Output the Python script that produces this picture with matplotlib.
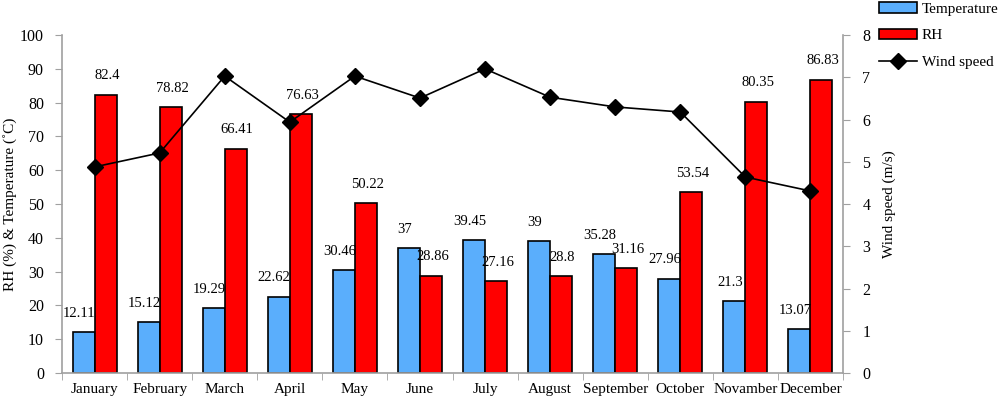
import numpy as np
import matplotlib
matplotlib.use("Agg")
import matplotlib.pyplot as plt

plt.rcParams['font.family'] = ['Liberation Serif', 'DejaVu Serif']

months = ["January", "February", "March", "April", "May", "June", "July",
          "August", "September", "October", "Novamber", "December"]
temperature = [12.11, 15.12, 19.29, 22.62, 30.46, 37, 39.45, 39, 35.28, 27.96, 21.3, 13.07]
rh = [82.4, 78.82, 66.41, 76.63, 50.22, 28.86, 27.16, 28.8, 31.16, 53.54, 80.35, 86.83]
wind_speed = [4.88, 5.21, 7.03, 5.94, 7.03, 6.51, 7.2, 6.53, 6.3, 6.18, 4.64, 4.31]

fig = plt.figure(figsize=(10, 3.99), dpi=100)
ax = fig.add_axes([0.062, 0.065, 0.781, 0.847])
ax2 = ax.twinx()

x = np.arange(len(months))
w = 0.338
b1 = ax.bar(x - w / 2, temperature, w, color="#5aaefc", edgecolor="black", linewidth=1.2, label="Temperature")
b2 = ax.bar(x + w / 2, rh, w, color="#ff0000", edgecolor="black", linewidth=1.2, label="RH")

for xi, v in zip(x, temperature):
    ax.text(xi - w / 2 - 0.07, v + 3.6, f"{v:g}", ha="center", va="bottom", fontsize=10.5)
for xi, v in zip(x, rh):
    ax.text(xi + w / 2 + 0.02, v + 3.6, f"{v:g}", ha="center", va="bottom", fontsize=10.5)

ln, = ax2.plot(x, wind_speed, color="black", marker="D", markersize=8.5, linewidth=1.2, label="Wind speed")

ax.set_xlim(-0.5, len(months) - 0.5)
ax.set_ylim(0, 100)
ax.set_yticks(range(0, 101, 10))
ax2.set_ylim(0, 8)
ax2.set_yticks(range(0, 9))

ax.set_xticks(x)
ax.set_xticklabels(months, fontsize=11)
ax.set_xticks(np.arange(-0.5, len(months), 1), minor=True)
ax.tick_params(axis="x", which="major", length=0, pad=7)
ax.tick_params(axis="x", which="minor", length=5, color="#a0a0a0")
ax.tick_params(axis="y", labelsize=11.5, length=5, color="#a0a0a0", pad=8)
ax2.tick_params(axis="y", labelsize=11.5, length=5, color="#a0a0a0", pad=9)

for a in (ax, ax2):
    a.spines["top"].set_visible(False)
    for s in ("left", "right", "bottom"):
        a.spines[s].set_color("#a0a0a0")
        a.spines[s].set_linewidth(1.2)
ax.spines["right"].set_visible(False)
ax2.spines["left"].set_visible(False)
ax2.spines["bottom"].set_visible(False)

ax.set_ylabel("RH (%) & Temperature (˚C)", fontsize=11)
ax.yaxis.set_label_coords(-0.058, 0.5)
ax2.set_ylabel("Wind speed (m/s)", fontsize=11, labelpad=9)

fig.legend([b1, b2, ln], ["Temperature", "RH", "Wind speed"], loc="upper left",
           bbox_to_anchor=(0.879, 0.995), frameon=False, fontsize=11, borderpad=0,
           borderaxespad=0, handlelength=2.5, handleheight=0.7, labelspacing=0.85,
           handletextpad=0.3)

fig.savefig("out.png", dpi=100)
